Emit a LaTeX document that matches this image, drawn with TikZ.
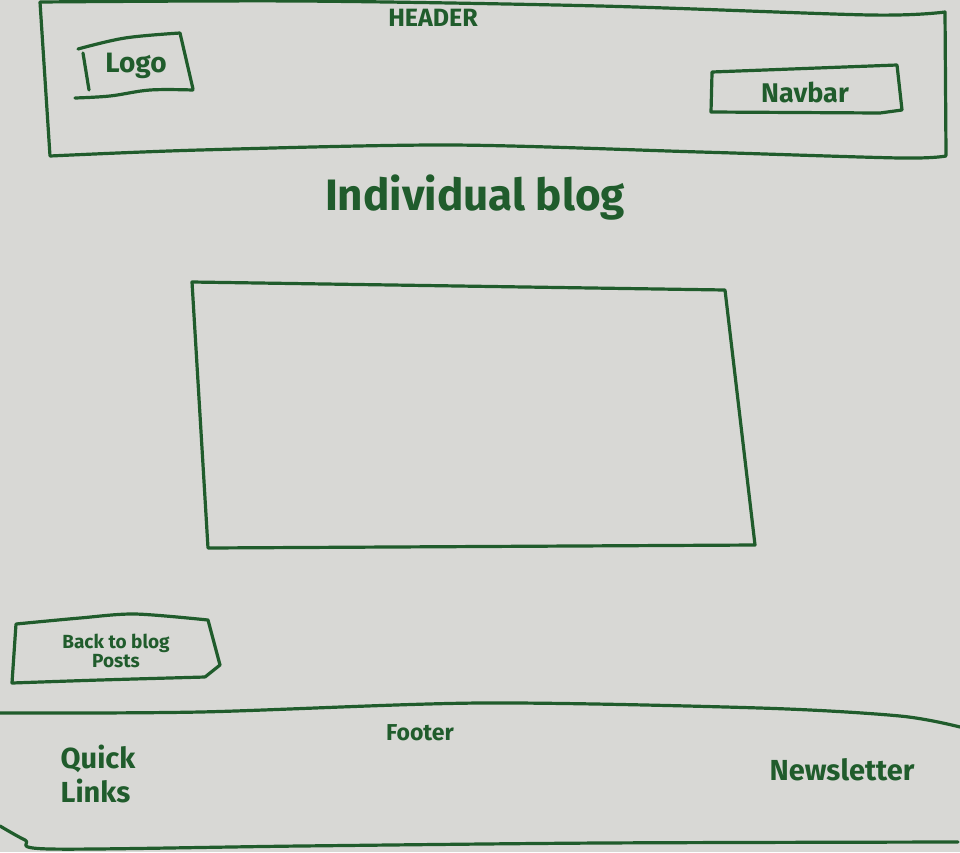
\documentclass[tikz,border=0pt]{standalone}
\usepackage{fontspec}
\setmainfont{Fira Sans}
\definecolor{paper}{RGB}{216,216,213}
\definecolor{marker}{RGB}{32,92,44}
\begin{document}
\begin{tikzpicture}[x=1pt,y=-1pt,
  ink/.style={draw=marker, line width=3.2pt, line cap=round, line join=round},
  label/.style={text=marker, inner sep=0pt, align=center, font=\bfseries}]
  % paper
  \fill[paper] (0,0) rectangle (960,852);
  \useasboundingbox (0,0) rectangle (960,852);

  % header band
  \draw[ink] plot[smooth, tension=0.5] coordinates {(40,2) (300,1) (600,6) (870,15) (945,12)}
             -- (946,155)
             plot[smooth, tension=0.5] coordinates {(946,156) (900,158) (700,152) (450,145) (200,150) (50,156)}
             -- (40,2);
  \node[label, font=\bfseries\fontsize{25}{28}\selectfont] (header) at (433,18) {HEADER};

  % logo box
  \draw[ink] (83,53) -- (89,90);
  \draw[ink] plot[smooth, tension=0.6] coordinates {(78,49) (125,38) (180,33)} -- (193,89);
  \draw[ink] plot[smooth, tension=0.6] coordinates {(75,98) (110,96) (150,90) (193,90)};
  \node[label, font=\bfseries\fontsize{28}{32}\selectfont] (logo) at (136,66) {Logo};

  % navbar box
  \draw[ink] (712,73) -- (711,112) -- (880,113) -- (902,110) -- (897,65) -- (712,72) -- (712,73);
  \node[label, font=\bfseries\fontsize{27}{30}\selectfont] (navbar) at (805,92) {Navbar};

  % page title
  \node[label, font=\bfseries\fontsize{44}{50}\selectfont] (title) at (475,198) {Individual blog};

  % content area
  \draw[ink] (192,282) -- (725,290) -- (755,545) -- (208,548) -- cycle;
  \coordinate (content) at (473,415);

  % back button
  \draw[ink] plot[smooth, tension=0.5] coordinates {(16,624) (80,618) (135,614) (208,620)}
             -- (220,665) -- (205,677)
             plot[smooth, tension=0.5] coordinates {(205,677) (100,680) (12,683)}
             -- (16,624);
  \node[label, font=\bfseries\fontsize{19}{19}\selectfont] (back) at (116,651) {Back to blog\\Posts};

  % footer band
  \draw[ink] plot[smooth, tension=0.5] coordinates {(0,713) (200,712) (480,703) (760,708) (900,716) (960,727)};
  \draw[ink] plot[smooth, tension=0.5] coordinates {(0,826) (25,840) (50,849) (300,846) (600,843) (958,842)};
  \node[label, font=\bfseries\fontsize{23}{26}\selectfont] (footer) at (420,733) {Footer};
  \node[label, font=\bfseries\fontsize{29}{34}\selectfont, align=left] (quick) at (98,774) {Quick\\Links};
  \node[label, font=\bfseries\fontsize{29}{32}\selectfont] (news) at (842,770) {Newsletter};
\end{tikzpicture}
\end{document}
